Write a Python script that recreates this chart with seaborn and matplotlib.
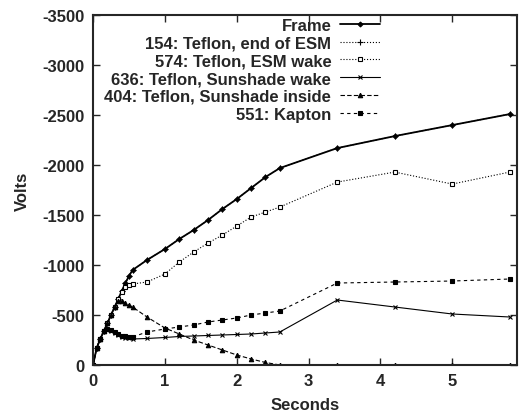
import matplotlib
matplotlib.use("Agg")
import matplotlib.pyplot as plt
import seaborn as sns

# データ
seconds = [0.0, 0.05, 0.1, 0.15, 0.2, 0.25, 0.3, 0.35, 0.4, 0.45, 0.5, 0.55,
           0.75, 1.0, 1.2, 1.4, 1.6, 1.8, 2.0, 2.2, 2.4, 2.6, 3.4, 4.2, 5.0, 5.8]
frame = [0, -170, -260, -340, -420, -500, -580, -660, -740, -820, -890, -950,
         -1050, -1160, -1260, -1350, -1450, -1560, -1660, -1770, -1880, -1970,
         -2170, -2290, -2400, -2510]
teflon_154 = [0, -170, -260, -340, -420, -500, -580, -660, -740, -820, -890, -950,
              -1050, -1160, -1260, -1350, -1450, -1560, -1660, -1770, -1880, -1970,
              -2170, -2290, -2400, -2510]
teflon_574 = [0, -170, -260, -340, -420, -500, -580, -660, -730, -780, -800, -810,
              -830, -910, -1030, -1130, -1220, -1300, -1390, -1480, -1530, -1580,
              -1830, -1930, -1810, -1930]
teflon_636 = [0, -170, -260, -340, -350, -335, -315, -295, -280, -270, -265, -260,
              -265, -275, -285, -290, -295, -300, -305, -310, -320, -330,
              -650, -580, -510, -480]
teflon_404 = [0, -170, -260, -340, -420, -500, -580, -640, -640, -620, -600, -580,
              -480, -370, -310, -250, -200, -150, -100, -60, -25, 0,
              0, 0, 0, 0]
kapton_551 = [0, -170, -260, -340, -355, -345, -325, -305, -290, -285, -280, -280,
              -330, -360, -380, -400, -430, -450, -470, -500, -520, -540,
              -820, -830, -840, -860]

labels = ['Frame', '154: Teflon, end of ESM', '574: Teflon, ESM wake',
          '636: Teflon, Sunshade wake', '404: Teflon, Sunshade inside', '551: Kapton']
y_ticks = [0, -500, -1000, -1500, -2000, -2500, -3000, -3500]
x_ticks = [0, 1, 2, 3, 4, 5]

sns.set_style('ticks')
plt.rcParams['font.family'] = ['Liberation Sans', 'DejaVu Sans']
plt.rcParams['font.weight'] = 'bold'
plt.rcParams['axes.unicode_minus'] = False

fig = plt.figure(figsize=(5.2, 4.14), dpi=100)
ax = fig.add_axes([0.179, 0.116, 0.815, 0.845])

series = [frame, teflon_154, teflon_574, teflon_636, teflon_404, kapton_551]
styles = [
    dict(marker='D', markersize=2.5, linestyle='-', linewidth=1.3),
    dict(marker='+', markersize=4, linestyle=':', linewidth=0.8),
    dict(marker='s', markersize=3.2, markerfacecolor='white', linestyle=':', linewidth=0.8),
    dict(marker='x', markersize=3.2, linestyle='-', linewidth=0.8),
    dict(marker='^', markersize=3.2, linestyle=(0, (4, 2)), linewidth=0.8),
    dict(marker='s', markersize=3, linestyle=(0, (3, 3)), linewidth=0.8),
]
for vals, lab, st in zip(series, labels, styles):
    sns.lineplot(x=seconds, y=vals, ax=ax, color='black', label=lab,
                 markeredgecolor='black', markeredgewidth=0.8, **st)

ax.set_xlim(0, 5.9)
ax.set_ylim(0, -3500)
ax.set_xticks(x_ticks)
ax.set_yticks(y_ticks)
ax.tick_params(direction='in', top=True, right=True, length=5, width=1,
               labelsize=12, pad=6)
for lbl in ax.get_xticklabels() + ax.get_yticklabels():
    lbl.set_fontweight('bold')
for sp in ax.spines.values():
    sp.set_linewidth(1.5)
    sp.set_visible(True)

ax.set_xlabel('Seconds', fontsize=12, fontweight='bold', labelpad=6)
ax.set_ylabel('Volts', fontsize=12, fontweight='bold', labelpad=9)

leg = ax.legend(loc='upper right', bbox_to_anchor=(0.68, 0.998), frameon=False,
                markerfirst=False, fontsize=12, handlelength=2.4,
                labelspacing=0.17, handletextpad=0.5, borderaxespad=0,
                borderpad=0.1)
for t in leg.get_texts():
    t.set_ha('right')
    t.set_fontweight('bold')

fig.savefig('out.png', dpi=100)
